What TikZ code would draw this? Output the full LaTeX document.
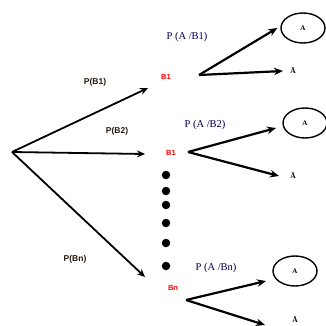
\documentclass[tikz,border=0pt]{standalone}
\usepackage{fontspec}
\setmainfont{Liberation Serif}
\setsansfont{Liberation Sans}
\usetikzlibrary{arrows.meta,shapes.geometric}
\begin{document}
\begin{tikzpicture}[x=1pt,y=-1pt,
  branch/.style={line width=1.8pt,-{Stealth[length=8pt,width=7pt]}},
  sub/.style={line width=2.2pt,-{Stealth[length=9pt,width=7.5pt]}},
  plab/.style={font=\sffamily\bfseries\fontsize{8.5}{10}\selectfont,text=black!80!brown,inner sep=0pt},
  clab/.style={font=\fontsize{10.5}{12}\selectfont,text=blue!30!black,inner sep=0pt},
  blab/.style={font=\sffamily\bfseries\fontsize{7.5}{9}\selectfont,text=red,inner sep=0pt},
  oval/.style={ellipse,draw,line width=1.4pt,minimum width=44pt,minimum height=30pt,inner sep=0pt,font=\fontsize{7}{8}\selectfont\bfseries},
  abar/.style={font=\fontsize{7.5}{8}\selectfont\bfseries,inner sep=1pt},
  dot/.style={circle,fill=black,minimum size=8.5pt,inner sep=0pt}]
\useasboundingbox (0,0) rectangle (326,326);
\coordinate (r) at (12,152);
\coordinate (t1) at (148,88);
\coordinate (t2) at (145,154);
\coordinate (tn) at (145,277);
\draw[branch] (r) -- (t1);
\draw[branch] (r) -- (t2);
\draw[branch] (r) -- (tn);
\node[plab] (p1) at (95,82) {P(B1)};
\node[plab] (p2) at (117,131) {P(B2)};
\node[plab] (pn) at (75,259) {P(Bn)};
\node[blab] (b1) at (166,77) {B1};
\node[blab] (b2) at (171,153) {B1};
\node[blab] (bn) at (173,288) {Bn};
\node[clab] (c1) at (187,37) {P (A /B1)};
\node[clab] (c2) at (205,125) {P (A /B2)};
\node[clab] (cn) at (216,268) {P (A /Bn)};
% first
\coordinate (s1) at (199,75);
\node[oval] (e1) at (303,28) {A};
\node[abar] (a1) at (293,71) {Ā};
\draw[sub] (s1) -- ([xshift=-3pt]e1.west);
\draw[sub] (s1) -- ([xshift=-10pt]a1.center);
% second
\coordinate (s2) at (188,152);
\node[oval] (e2) at (305,123) {A};
\node[abar] (a2) at (293,176) {Ā};
\draw[sub] (s2) -- (276,128);
\draw[sub] (s2) -- ([xshift=-14pt]a2.center);
% third
\coordinate (s3) at (186,300);
\node[oval] (e3) at (295,271) {A};
\node[abar] (a3) at (295,320) {Ā};
\draw[sub] (s3) -- (266,281);
\draw[sub] (s3) -- (265,325);
% dots
\foreach \y/\n in {175/1,191/2,205/3,223/4,243/5,266/6}
  \node[dot] (d\n) at (166,\y) {};
\end{tikzpicture}
\end{document}
